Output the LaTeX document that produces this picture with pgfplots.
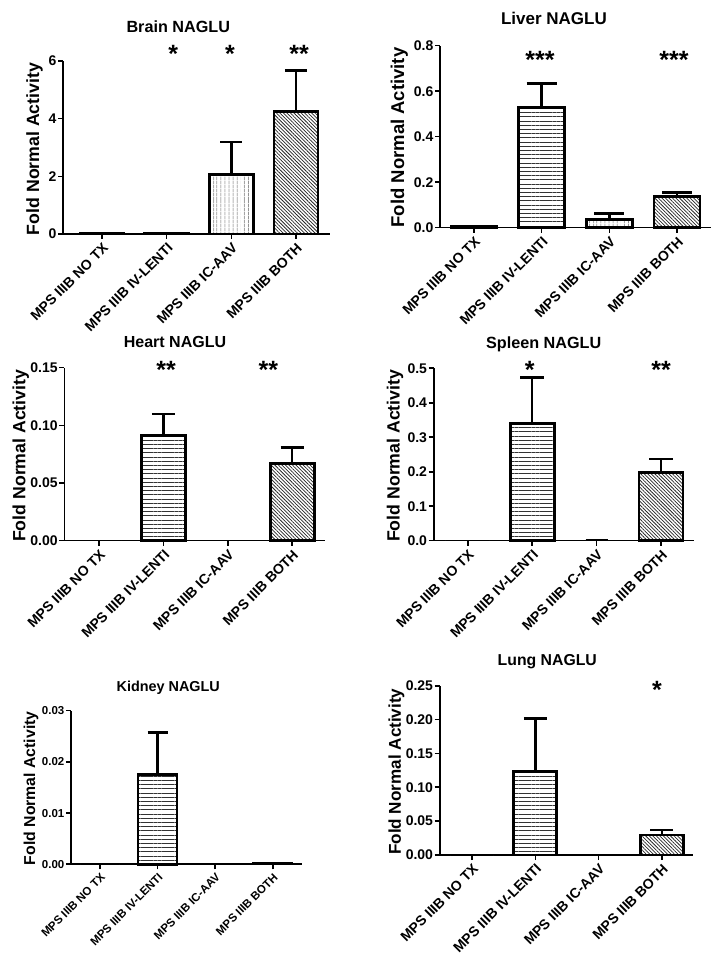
\documentclass[border=0pt]{standalone}
\usepackage{fontspec}
\setmainfont{Liberation Sans}
\usepackage{pgfplots}
\pgfplotsset{compat=1.18}
\usetikzlibrary{patterns.meta}

\tikzset{
  hpat/.style={pattern={Lines[angle=0,distance=4.2pt,line width=0.8pt]}, pattern color=black!80},
  vpat/.style={pattern={Lines[angle=90,distance=4pt,line width=0.8pt]}, pattern color=black!80},
  dpat/.style={pattern={Lines[angle=-45,distance=2.5pt,line width=0.75pt]}, pattern color=black!85},
  star/.style={font=\bfseries\fontsize{25}{25}\selectfont, anchor=base, yshift=-10.5pt, inner sep=0pt},
  ylab/.style={rotate=90, anchor=base, inner sep=0pt},
  ttl/.style={anchor=base, inner sep=0pt},
}

\pgfplotsset{
  panel/.style={
    scale only axis, axis lines*=left, ymin=0, clip=false,
    ybar, bar shift=0pt,
    xtick={0,1,2,3},
    xticklabels={MPS IIIB NO TX, MPS IIIB IV-LENTI, MPS IIIB IC-AAV, MPS IIIB BOTH},
    tick align=outside, major tick length=5pt,
    every tick/.style={black, line width=1.6pt},
    axis line style={line width=1.6pt, black, -},
    tick label style={font=\bfseries\fontsize{14}{14}\selectfont},
    xticklabel style={yshift=-3pt, rotate=45, anchor=north east, inner sep=0pt},
    yticklabel style={inner sep=1.5pt},
    scaled y ticks=false,
    /pgf/number format/assume math mode=true,
    every axis plot/.append style={draw=black, line width=2.8pt},
    error bars/y dir=plus, error bars/y explicit,
    error bars/error bar style={line width=2.6pt, black, solid},
    capw/.code={\pgfplotsset{error bars/error mark options={rotate=90, line width=2.6pt, mark size=##1, black, solid}}},
    capw=11pt,
  },
  noerr/.style={error bars/y dir=none},
  zero/.style={error bars/y dir=none, line width=1.6pt},
}

\begin{document}
\begin{tikzpicture}
\path[use as bounding box] (0,0) rectangle (724pt,961pt);

% ---------------- Brain ----------------
\begin{axis}[panel, at={(63pt,727pt)}, anchor=south west, width=267pt, height=173pt,
  xmin=-0.603, xmax=3.526, ymax=6, ytick={0,2,4,6}, bar width=44pt, capw=11pt]
\addplot[fill=white, noerr] coordinates {(0,0.01)};
\addplot[hpat] coordinates {(1,0.03) +- (0,0.01)};
\addplot[vpat] coordinates {(2,2.07) +- (0,1.12)};
\addplot[dpat] coordinates {(3,4.24) +- (0,1.42)};
\node[star] at (axis cs:1.1,6.31) {*};
\node[star] at (axis cs:1.98,6.31) {*};
\node[star] at (axis cs:3.05,6.31) {**};
\end{axis}

% ---------------- Liver ----------------
\begin{axis}[panel, at={(440pt,733.3pt)}, anchor=south west, width=271pt, height=182pt,
  xmin=-0.502, xmax=3.502, ymax=0.8, ytick={0,0.2,0.4,0.6,0.8}, bar width=46pt, capw=15pt,
  /pgf/number format/.cd, fixed, fixed zerofill, precision=1]
\addplot[fill=white] coordinates {(0,0.004) +- (0,0.001)};
\addplot[hpat] coordinates {(1,0.527) +- (0,0.108)};
\addplot[vpat] coordinates {(2,0.035) +- (0,0.027)};
\addplot[dpat] coordinates {(3,0.138) +- (0,0.016)};
\node[star] at (axis cs:0.975,0.746) {***};
\node[star] at (axis cs:2.955,0.746) {***};
\end{axis}

% ---------------- Heart ----------------
\begin{axis}[panel, at={(64.3pt,420.3pt)}, anchor=south west, width=260.7pt, height=173pt,
  xmin=-0.54, xmax=3.51, ymax=0.15, ytick={0,0.05,0.10,0.15}, bar width=44pt, capw=11.5pt,
  /pgf/number format/.cd, fixed, fixed zerofill, precision=2]
\addplot[fill=white, zero] coordinates {(0,0)};
\addplot[hpat] coordinates {(1,0.091) +- (0,0.019)};
\addplot[vpat, zero] coordinates {(2,0)};
\addplot[dpat] coordinates {(3,0.067) +- (0,0.014)};
\node[star] at (axis cs:1.04,0.1497) {**};
\node[star] at (axis cs:2.63,0.1497) {**};
\end{axis}

% ---------------- Spleen ----------------
\begin{axis}[panel, at={(433.7pt,420.3pt)}, anchor=south west, width=260pt, height=172.4pt,
  xmin=-0.528, xmax=3.507, ymax=0.5, ytick={0,0.1,0.2,0.3,0.4,0.5}, bar width=44pt, capw=12pt,
  /pgf/number format/.cd, fixed, fixed zerofill, precision=1]
\addplot[fill=white, zero] coordinates {(0,0)};
\addplot[hpat] coordinates {(1,0.34) +- (0,0.134)};
\addplot[vpat, line width=1.6pt, capw=11pt] coordinates {(2,0.001) +- (0,0.001)};
\addplot[dpat] coordinates {(3,0.198) +- (0,0.039)};
\node[star] at (axis cs:0.962,0.5) {*};
\node[star] at (axis cs:3.0,0.5) {**};
\end{axis}

% ---------------- Kidney ----------------
\begin{axis}[panel, at={(71pt,96.7pt)}, anchor=south west, width=231.3pt, height=153.6pt,
  xmin=-0.504, xmax=3.514, ymax=0.03, ytick={0,0.01,0.02,0.03}, bar width=39pt, capw=10pt,
  tick label style={font=\bfseries\fontsize{11.5}{11.5}\selectfont},
  /pgf/number format/.cd, fixed, fixed zerofill, precision=2]
\addplot[fill=white, zero] coordinates {(0,0)};
\addplot[hpat] coordinates {(1,0.0175) +- (0,0.0083)};
\addplot[vpat, zero] coordinates {(2,0)};
\addplot[dpat, noerr, line width=1.8pt] coordinates {(3,0.0002)};
\end{axis}

% ---------------- Lung ----------------
\begin{axis}[panel, at={(439.7pt,106pt)}, anchor=south west, width=253.3pt, height=169.3pt,
  xmin=-0.51, xmax=3.49, ymax=0.25, ytick={0,0.05,0.10,0.15,0.20,0.25}, bar width=43pt, capw=11.5pt,
  /pgf/number format/.cd, fixed, fixed zerofill, precision=2]
\addplot[fill=white, zero] coordinates {(0,0)};
\addplot[hpat] coordinates {(1,0.123) +- (0,0.079)};
\addplot[vpat, zero] coordinates {(2,0)};
\addplot[dpat] coordinates {(3,0.0295) +- (0,0.0074)};
\node[star] at (axis cs:2.92,0.2466) {*};
\end{axis}

% ---------------- titles and y labels ----------------
\node[ttl, font=\bfseries\fontsize{16.2}{16.2}\selectfont] at (178.3pt,928.5pt) {Brain NAGLU};
\node[ttl, font=\bfseries\fontsize{17}{17}\selectfont] at (554pt,936.6pt) {Liver NAGLU};
\node[ttl, font=\bfseries\fontsize{16}{16}\selectfont] at (175pt,613.6pt) {Heart NAGLU};
\node[ttl, font=\bfseries\fontsize{16.2}{16.2}\selectfont] at (543.7pt,612.5pt) {Spleen NAGLU};
\node[ttl, font=\bfseries\fontsize{14.4}{14.4}\selectfont] at (168.3pt,269.1pt) {Kidney NAGLU};
\node[ttl, font=\bfseries\fontsize{15.8}{15.8}\selectfont] at (547.3pt,295.3pt) {Lung NAGLU};

\node[ylab, font=\bfseries\fontsize{17.7}{17.7}\selectfont] at (39pt,812pt) {Fold Normal Activity};
\node[ylab, font=\bfseries\fontsize{18.5}{18.5}\selectfont] at (404pt,823.5pt) {Fold Normal Activity};
\node[ylab, font=\bfseries\fontsize{17.7}{17.7}\selectfont] at (25.4pt,505.2pt) {Fold Normal Activity};
\node[ylab, font=\bfseries\fontsize{17.7}{17.7}\selectfont] at (399.7pt,505.2pt) {Fold Normal Activity};
\node[ylab, font=\bfseries\fontsize{15.8}{15.8}\selectfont] at (35pt,172.7pt) {Fold Normal Activity};
\node[ylab, font=\bfseries\fontsize{17.1}{17.1}\selectfont] at (400.9pt,189.3pt) {Fold Normal Activity};
\end{tikzpicture}
\end{document}
